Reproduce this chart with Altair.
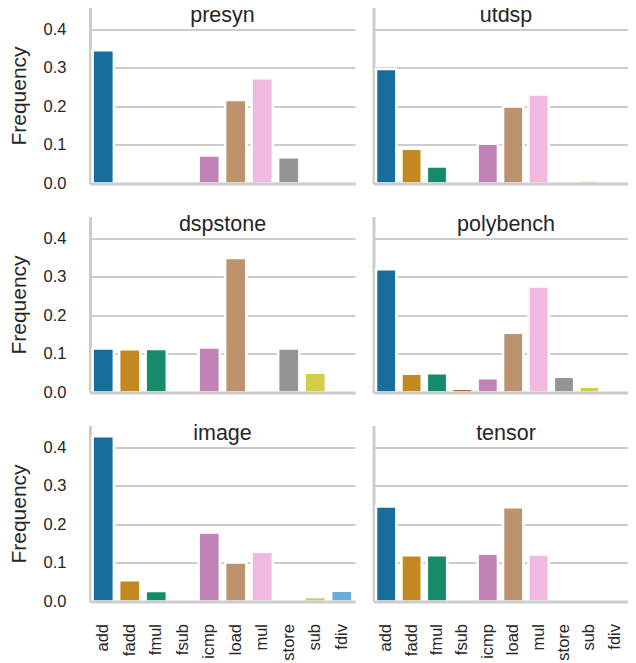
import altair as alt
import pandas as pd

categories = ["add", "fadd", "fmul", "fsub", "icmp", "load", "mul", "store", "sub", "fdiv"]
colors = ["#176d9c", "#c38820", "#168b6a", "#ba611b", "#c183b5",
          "#bd926e", "#f1b8e0", "#949494", "#d5cd4a", "#68afd7"]

suites = ["presyn", "utdsp", "dspstone", "polybench", "image", "tensor"]
presyn = [0.346, 0, 0, 0, 0.073, 0.217, 0.273, 0.068, 0, 0]
utdsp = [0.297, 0.090, 0.044, 0, 0.103, 0.200, 0.231, 0, 0.008, 0]
dspstone = [0.114, 0.112, 0.113, 0, 0.117, 0.349, 0, 0.114, 0.051, 0]
polybench = [0.320, 0.049, 0.050, 0.010, 0.037, 0.155, 0.275, 0.041, 0.015, 0]
image = [0.429, 0.055, 0.027, 0, 0.179, 0.101, 0.129, 0.006, 0.012, 0.028]
tensor = [0.247, 0.120, 0.120, 0, 0.124, 0.245, 0.122, 0, 0, 0]
y_ticks = [0.0, 0.1, 0.2, 0.3, 0.4]
y_max = 0.457

values = [presyn, utdsp, dspstone, polybench, image, tensor]

W_LEFT, W_RIGHT, H = 265, 254, 176
GRID = "#cccccc"
TXT = "#262626"
FONT = "Liberation Sans"


def panel(name, vals, left, bottom):
    w = W_LEFT if left else W_RIGHT
    df = pd.DataFrame({"op": categories, "freq": vals})
    x = alt.X(
        "op:N",
        sort=categories,
        scale=alt.Scale(domain=categories, paddingInner=0.2, paddingOuter=0.1),
        axis=alt.Axis(
            title=None, labels=bottom, labelAngle=-90, ticks=False,
            domain=True, domainColor=GRID, domainWidth=3, grid=False,
            zindex=1, labelPadding=22 if bottom else 0,
        ),
    )
    y = alt.Y(
        "freq:Q",
        scale=alt.Scale(domain=[0, y_max], nice=False, zero=True),
        axis=alt.Axis(
            title="Frequency" if left else None, labels=left, values=y_ticks,
            format=".1f", ticks=False, grid=True, gridColor=GRID, gridWidth=2.2,
            domain=True, domainColor=GRID, domainWidth=3,
            labelPadding=24 if left else 0, titlePadding=14,
        ),
    )
    bars = alt.Chart(df).mark_bar(stroke="white", strokeWidth=2.5).encode(
        x=x, y=y,
        color=alt.Color("op:N", scale=alt.Scale(domain=categories, range=colors), legend=None),
    )
    tdf = pd.DataFrame({"t": [name]})
    title = alt.Chart(tdf).mark_text(
        fontSize=21.5, font=FONT, color=TXT, align="center", baseline="alphabetic"
    ).encode(text="t:N", x=alt.value(W_LEFT / 2), y=alt.value(14))
    return alt.layer(bars, title).properties(width=w, height=H)


rows = []
for r in range(3):
    cells = []
    for c in range(2):
        i = r * 2 + c
        cells.append(panel(suites[i], values[i], c == 0, r == 2))
    rows.append(alt.hconcat(*cells, spacing=18.5))

chart = alt.vconcat(*rows, spacing=21).properties(
    padding={"left": 0, "top": -3.5, "right": 0, "bottom": 0},
    background="white",
).configure_view(stroke=None).configure_axis(
    labelFont=FONT, labelFontSize=16.5, labelColor=TXT,
    titleFont=FONT, titleFontSize=21, titleColor=TXT, titleFontWeight="normal",
)

chart.save("out.html", embed_options={"renderer": "svg", "actions": False})
